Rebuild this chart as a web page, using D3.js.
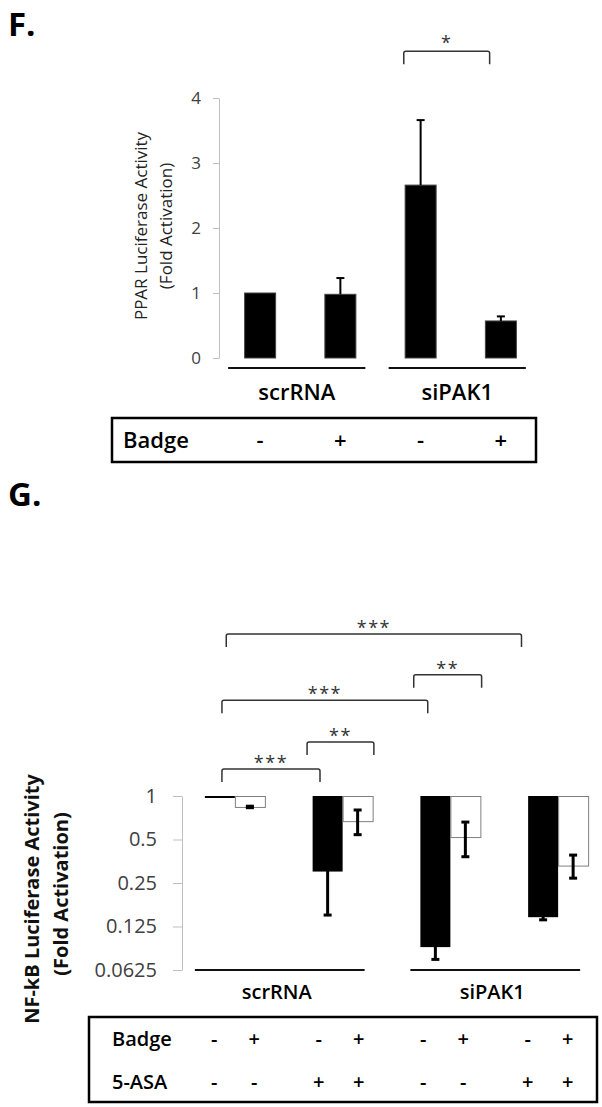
<!DOCTYPE html>
<html>
<head>
<meta charset="utf-8">
<script src="https://cdn.jsdelivr.net/npm/d3@7"></script>
<style>
  body { margin: 0; background: #fff; }
  svg { display: block; font-family: "Open Sans", sans-serif; }
  .panel { font-size: 33px; font-weight: 700; }
  .lab { font-weight: 600; }
  .stars { font-size: 18px; fill: #333; letter-spacing: 1.5px; }
</style>
</head>
<body>
<svg id="fig" width="602" height="1107"></svg>
<script>
// ---- panel F : PPAR luciferase ----
var fBars = ["scr-", "scr+", "si-", "si+"];
var fValues = [1.0, 0.98, 2.66, 0.57];
var fErrors = [0, 0.25, 1.0, 0.07];
var fTicks = [0, 1, 2, 3, 4];
var fBadge = ["-", "+", "-", "+"];
var groupNames = ["scrRNA", "siPAK1"];
// significance bracket, in bar-index units and y units
var fSigFrom = [1.79], fSigTo = [2.86], fSigLevel = [4.72], fSigStars = ["*"];

// ---- panel G : NF-kB luciferase (log2 axis) ----
var gGroups = ["scr-ctrl", "scr-5asa", "si-ctrl", "si-5asa"];
var gBlack = [1.0, 0.30, 0.09, 0.145];
var gBlackErr = [0, 0.15, 0.016, 0.006];
var gWhite = [0.84, 0.67, 0.52, 0.33];
var gWhiteErr = [0.01, 0.13, 0.14, 0.06];
var gTicks = [1, 0.5, 0.25, 0.125, 0.0625];
var gBadge = ["-", "+", "-", "+", "-", "+", "-", "+"];
var gAsa = ["-", "-", "+", "+", "-", "-", "+", "+"];
// brackets: ends in group-index units, level in fold units
var gSigFrom = [-0.08, 1.66, -0.12, 0.67, -0.12];
var gSigTo = [2.66, 2.29, 1.79, 1.29, 0.79];
var gSigLevel = [13.2, 6.9, 4.6, 2.36, 1.54];
var gSigStars = ["***", "**", "***", "**", "***"];

var svg = d3.select("#fig");

function styleAxis(g, size) {
  g.select(".domain").attr("stroke", "#bfbfbf");
  g.selectAll(".tick line").attr("stroke", "#bfbfbf");
  g.selectAll(".tick text").attr("fill", "#404040")
    .style("font-size", size + "px").style("font-family", "'Open Sans', sans-serif");
}

function bracket(x1, x2, top, leg) {
  var r = 2;
  return "M" + x1 + "," + (top + leg) + "V" + (top + r) + "Q" + x1 + "," + top + " " + (x1 + r) + "," + top +
    "H" + (x2 - r) + "Q" + x2 + "," + top + " " + x2 + "," + (top + r) + "V" + (top + leg);
}

// ===================== F =====================
var fx = d3.scalePoint().domain(fBars).range([220, 541]).padding(0.5);
var fxLin = d3.scaleLinear().domain([0, 3]).range([fx(fBars[0]), fx(fBars[3])]);
var fy = d3.scaleLinear().domain([0, 4]).range([358, 98]);
var fBarW = 31;

svg.append("text").attr("class", "panel").attr("x", 8).attr("y", 36).text("F.");

var fAxis = svg.append("g").attr("transform", "translate(219,0)")
  .call(d3.axisLeft(fy).tickValues(fTicks).tickFormat(d3.format("d"))
    .tickSize(6).tickSizeOuter(0).tickPadding(12));
styleAxis(fAxis, 17);

var fLab = svg.append("g").style("font-size", "17px").attr("fill", "#222");
fLab.append("text").attr("text-anchor", "middle")
  .attr("transform", "translate(147,226) rotate(-90)").text("PPAR Luciferase Activity");
fLab.append("text").attr("text-anchor", "middle")
  .attr("transform", "translate(172,226) rotate(-90)").text("(Fold Activation)");

svg.append("g").selectAll("rect").data(fBars).enter().append("rect")
  .attr("x", function(d) { return fx(d) - fBarW / 2; })
  .attr("y", function(d, i) { return fy(fValues[i]); })
  .attr("width", fBarW)
  .attr("height", function(d, i) { return fy(0) - fy(fValues[i]); })
  .attr("fill", "#000").attr("stroke", "#444");

var fErr = svg.append("g").attr("stroke", "#000").attr("stroke-width", 2);
fBars.forEach(function(d, i) {
  if (!fErrors[i]) return;
  var cx = fx(d), y0 = fy(fValues[i]), y1 = fy(fValues[i] + fErrors[i]);
  fErr.append("line").attr("x1", cx).attr("x2", cx).attr("y1", y0).attr("y2", y1);
  fErr.append("line").attr("x1", cx - 4).attr("x2", cx + 4).attr("y1", y1).attr("y2", y1);
});

fSigFrom.forEach(function(f, i) {
  var x1 = fxLin(f), x2 = fxLin(fSigTo[i]), top = fy(fSigLevel[i]);
  svg.append("path").attr("d", bracket(x1, x2, top, 13))
    .attr("fill", "none").attr("stroke", "#333").attr("stroke-width", 1.5);
  svg.append("text").attr("class", "stars").attr("text-anchor", "middle")
    .attr("x", (x1 + x2) / 2).attr("y", top - 2).text(fSigStars[i]);
});

// group lines and names
[0, 1].forEach(function(k) {
  var a = fx(fBars[k * 2]), b = fx(fBars[k * 2 + 1]);
  var x1 = a - 32, x2 = b + 25;
  svg.append("line").attr("x1", x1).attr("x2", x2).attr("y1", 368).attr("y2", 368)
    .attr("stroke", "#111").attr("stroke-width", 2);
  svg.append("text").attr("class", "lab").attr("text-anchor", "middle")
    .attr("x", (x1 + x2) / 2).attr("y", 400).style("font-size", "22px").text(groupNames[k]);
});

// treatment table
svg.append("rect").attr("x", 112).attr("y", 418).attr("width", 424).attr("height", 44)
  .attr("fill", "none").attr("stroke", "#000").attr("stroke-width", 2.5);
svg.append("text").attr("class", "lab").attr("x", 123).attr("y", 448)
  .style("font-size", "22px").text("Badge");
svg.append("g").selectAll("text").data(fBadge).enter().append("text")
  .attr("class", "lab").attr("text-anchor", "middle").style("font-size", "22px")
  .attr("x", function(d, i) { return fx(fBars[i]); }).attr("y", 448)
  .text(function(d) { return d; });

// ===================== G =====================
var gx = d3.scalePoint().domain(gGroups).range([181, 612]).padding(0.5);
var gxLin = d3.scaleLinear().domain([0, 3]).range([gx(gGroups[0]), gx(gGroups[3])]);
var gy = d3.scaleLog().base(2).domain([0.0625, 1]).range([970, 796]);
var tx = d3.scalePoint().domain(gGroups).range([182, 600]).padding(0.5);
var gBarW = 30;

svg.append("text").attr("class", "panel").attr("x", 8).attr("y", 506).text("G.");

var gAxis = svg.append("g").attr("transform", "translate(182,0)")
  .call(d3.axisLeft(gy).tickValues(gTicks).tickFormat(function(d) { return String(d); })
    .tickSize(9).tickSizeOuter(0).tickPadding(16));
styleAxis(gAxis, 20);

var gLab = svg.append("g").style("font-size", "20px").style("font-weight", 700).attr("fill", "#111");
gLab.append("text").attr("text-anchor", "middle")
  .attr("transform", "translate(39,899) rotate(-90)").text("NF-kB Luciferase Activity");
gLab.append("text").attr("text-anchor", "middle")
  .attr("transform", "translate(68,894) rotate(-90)").text("(Fold Activation)");

// black bars hang from 1 down to the value
svg.append("g").selectAll("rect").data(gGroups).enter().append("rect")
  .attr("x", function(d) { return gx(d) - gBarW; })
  .attr("y", gy(1))
  .attr("width", gBarW)
  .attr("height", function(d, i) { return Math.max(gy(gBlack[i]) - gy(1), 2); })
  .attr("fill", "#000");

svg.append("g").selectAll("rect").data(gGroups).enter().append("rect")
  .attr("x", function(d) { return gx(d) + 0.5; })
  .attr("y", gy(1) + 0.5)
  .attr("width", gBarW)
  .attr("height", function(d, i) { return gy(gWhite[i]) - gy(1); })
  .attr("fill", "#fff").attr("stroke", "#7f7f7f");

var gErr = svg.append("g").attr("stroke", "#000").attr("stroke-width", 3);
function errBar(cx, v, e) {
  if (!e) return;
  var yHi = gy(v + e), yLo = gy(v - e);
  gErr.append("line").attr("x1", cx).attr("x2", cx).attr("y1", yHi).attr("y2", yLo);
  gErr.append("line").attr("x1", cx - 4).attr("x2", cx + 4).attr("y1", yHi).attr("y2", yHi);
  gErr.append("line").attr("x1", cx - 4).attr("x2", cx + 4).attr("y1", yLo).attr("y2", yLo);
}
gGroups.forEach(function(d, i) {
  errBar(gx(d) - gBarW / 2, gBlack[i], gBlackErr[i]);
  errBar(gx(d) + gBarW / 2, gWhite[i], gWhiteErr[i]);
});

gSigFrom.forEach(function(f, i) {
  var x1 = gxLin(f), x2 = gxLin(gSigTo[i]), top = gy(gSigLevel[i]);
  svg.append("path").attr("d", bracket(x1, x2, top, 13))
    .attr("fill", "none").attr("stroke", "#333").attr("stroke-width", 1.5);
  svg.append("text").attr("class", "stars").attr("text-anchor", "middle")
    .attr("x", (x1 + x2) / 2).attr("y", top).text(gSigStars[i]);
});

[0, 1].forEach(function(k) {
  var a = gx(gGroups[k * 2]), b = gx(gGroups[k * 2 + 1]);
  var x1 = a - 40, x2 = b + 22;
  svg.append("line").attr("x1", x1).attr("x2", x2).attr("y1", 970).attr("y2", 970)
    .attr("stroke", "#111").attr("stroke-width", 2);
  svg.append("text").attr("class", "lab").attr("text-anchor", "middle")
    .attr("x", (x1 + x2) / 2 - 3).attr("y", 999).style("font-size", "20px").text(groupNames[k]);
});

svg.append("rect").attr("x", 89).attr("y", 1017).attr("width", 508).attr("height", 85)
  .attr("fill", "none").attr("stroke", "#000").attr("stroke-width", 2.5);
var rows = [["Badge", gBadge, 1046], ["5-ASA", gAsa, 1089]];
rows.forEach(function(r) {
  svg.append("text").attr("class", "lab").attr("x", 112).attr("y", r[2])
    .style("font-size", "20px").text(r[0]);
  svg.append("g").selectAll("text").data(r[1]).enter().append("text")
    .attr("class", "lab").attr("text-anchor", "middle").style("font-size", "20px")
    .attr("x", function(d, i) { return tx(gGroups[i >> 1]) + (i % 2 ? 20 : -20); })
    .attr("y", r[2])
    .text(function(d) { return d; });
});
</script>
</body>
</html>
